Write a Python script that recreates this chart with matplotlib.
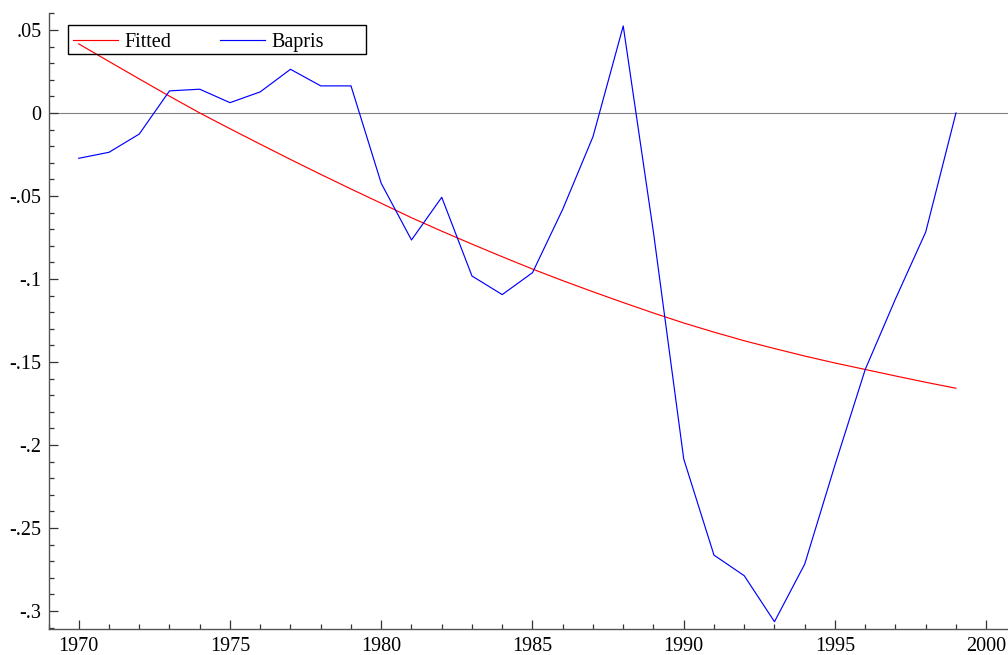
import matplotlib
matplotlib.use("Agg")
import matplotlib.pyplot as plt
from matplotlib.ticker import MultipleLocator, FuncFormatter
from matplotlib.patches import Rectangle

years = list(range(1970, 2000))
fitted = [0.0416, 0.0310, 0.0205, 0.0101, 0.0000, -0.0095, -0.0188, -0.0280,
          -0.0370, -0.0458, -0.0544, -0.0631, -0.0712, -0.0790, -0.0866,
          -0.0940, -0.1010, -0.1077, -0.1142, -0.1205, -0.1265, -0.1320,
          -0.1372, -0.1419, -0.1464, -0.1506, -0.1545, -0.1584, -0.1622,
          -0.1658]
bapris = [-0.0273, -0.0237, -0.0127, 0.0133, 0.0143, 0.0062, 0.0127, 0.0263,
          0.0163, 0.0163, -0.0424, -0.0765, -0.0508, -0.0982, -0.1094,
          -0.0962, -0.0580, -0.0143, 0.0524, -0.0720, -0.2084, -0.2663,
          -0.2787, -0.3064, -0.2717, -0.2120, -0.1545, -0.1120, -0.0717,
          0.0000]
series_labels = ["Fitted", "Bapris"]

plt.rcParams['font.family'] = ['Liberation Serif', 'DejaVu Serif']

W, H = 1008, 655
fig = plt.figure(figsize=(W / 100, H / 100), dpi=100)
left, bottom, top, right = 48.5, 26, 13, 1008
ax = fig.add_axes([left / W, bottom / H, (right - left) / W, (H - bottom - top) / H])

ax.plot(years, fitted, color='#ff0000', lw=0.85, label=series_labels[0])
ax.plot(years, bapris, color='#0000ff', lw=0.85, label=series_labels[1])
ax.axhline(0, color='#808080', lw=0.8, zorder=0)

ax.set_xlim(1969, 2000.72)
ax.set_ylim(-0.3108, 0.0602)

for s in ['top', 'right']:
    ax.spines[s].set_visible(False)
for s in ['left', 'bottom']:
    ax.spines[s].set_color('#555555')
    ax.spines[s].set_linewidth(1.0)

ax.xaxis.set_major_locator(MultipleLocator(5))
ax.xaxis.set_minor_locator(MultipleLocator(1))
ax.yaxis.set_major_locator(MultipleLocator(0.05))
ax.yaxis.set_minor_locator(MultipleLocator(0.01))


def yfmt(v, pos):
    if abs(v) < 1e-9:
        return "0"
    s = ("%.2f" % v).rstrip('0')
    s = s.replace("0.", ".")
    return s


ax.yaxis.set_major_formatter(FuncFormatter(yfmt))
ax.tick_params(which='major', direction='in', length=6.5, width=0.9,
               color='#333333', labelsize=14.5)
ax.tick_params(which='minor', direction='in', length=3.3, width=0.9,
               color='#333333')
ax.tick_params(axis='y', which='major', pad=5)
ax.tick_params(axis='x', which='major', pad=6)

# legend frame box (pixel coords of the reference), unfilled
bx0, by0, bx1, by1 = 68, 25, 366, 54
fig.patches.append(Rectangle((bx0 / W, 1 - by1 / H), (bx1 - bx0) / W, (by1 - by0) / H,
                             transform=fig.transFigure, fill=False,
                             edgecolor='black', linewidth=1.0, zorder=5))

leg_top = by0 + 3
leg = ax.legend(loc='upper left',
                bbox_to_anchor=((bx0 - left) / (right - left), 1 - (leg_top - top) / (H - bottom - top)),
                ncol=2, frameon=False, fontsize=14.5,
                handlelength=2.25, handletextpad=0.3, columnspacing=2.4,
                borderpad=0.25, borderaxespad=0.0)
leg.set_zorder(6)

fig.savefig('out.png', dpi=100)
